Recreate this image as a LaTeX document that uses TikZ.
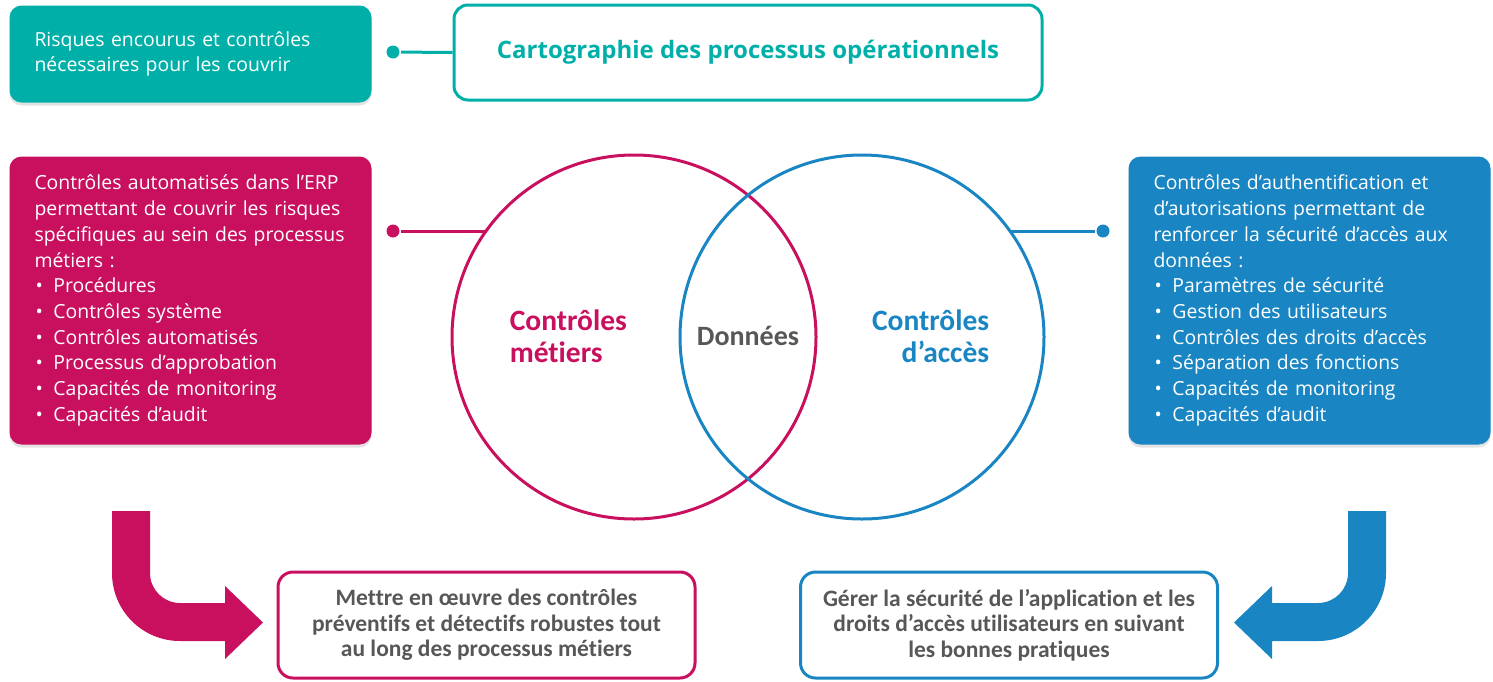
\documentclass[tikz,border=0pt]{standalone}
\usepackage{fontspec}
\setmainfont{Open Sans}[Ligatures={TeX,NoCommon}]
\newfontfamily\condfont{Carlito}[Ligatures={TeX,NoCommon}]
\usetikzlibrary{positioning,shadows}
\definecolor{cteal}{RGB}{0,176,168}
\definecolor{cmag}{RGB}{200,16,95}
\definecolor{cblue}{RGB}{25,133,195}
\definecolor{cgray}{RGB}{87,87,87}
\newcommand{\itm}[1]{\hspace*{1pt}\makebox[18pt][l]{\textbullet}#1}

\begin{document}
\begin{tikzpicture}[%
            x=1pt, y=-1pt,
            line width=3pt,
            box/.style={rounded corners=12pt, text=white, align=left, anchor=north west,
              inner xsep=25pt, inner ysep=0pt, font=\fontsize{19.4}{25.7}\selectfont,
              drop shadow={shadow xshift=0pt, shadow yshift=-3pt, opacity=0.22}},
            outbox/.style={draw, rounded corners=15pt, minimum width=417pt, minimum height=106pt,
              align=center, text=cgray, font=\condfont\bfseries\fontsize{23.5}{25.5}\selectfont},
            venn/.style={circle, draw, minimum size=364pt, inner sep=0pt, outer sep=0pt},
            dot/.style={circle, inner sep=0pt, minimum size=13pt},
            vlabel/.style={font=\condfont\bfseries\fontsize{29.5}{32}\selectfont}
            ]
            \useasboundingbox (0,0) rectangle (1493,681);

            \node[box, fill=cteal, text width=312pt, minimum height=97pt] (risk) at (8,4)
              {Risques encourus et contrôles\\nécessaires pour les couvrir};
            \node[draw=cteal, rounded corners=14pt, minimum width=588pt, minimum height=95pt,
              text=cteal, font=\bfseries\fontsize{24}{26}\selectfont] (carto) at (748,52.5)
              {Cartographie des processus opérationnels};
            \node[dot, fill=cteal] (dotT) at (393,52) {};
            \draw[cteal] (dotT) -- (carto.west);

            \node[box, fill=cmag, text width=312pt, minimum height=288pt] (metier) at (8,155)
              {Contrôles automatisés dans l’ERP\\permettant de couvrir les risques\\spécifiques au sein des processus\\métiers :\\
               \itm{Procédures}\\\itm{Contrôles système}\\\itm{Contrôles automatisés}\\
               \itm{Processus d’approbation}\\\itm{Capacités de monitoring}\\\itm{Capacités d’audit}};
            \node[box, fill=cblue, text width=312pt, minimum height=288pt] (acces) at (1127,155)
              {Contrôles d’authentification et\\d’autorisations permettant de\\renforcer la sécurité d’accès aux\\données :\\
               \itm{Paramètres de sécurité}\\\itm{Gestion des utilisateurs}\\\itm{Contrôles des droits d’accès}\\
               \itm{Séparation des fonctions}\\\itm{Capacités de monitoring}\\\itm{Capacités d’audit}};

            \node[venn, draw=cmag] (cirM) at (634,337) {};
            \node[venn, draw=cblue] (cirA) at (862,337) {};
            \node[dot, fill=cmag] (dotM) at (393,231) {};
            \node[dot, fill=cblue] (dotA) at (1103,231) {};
            \draw[cmag] (dotM) -- (cirM.144.4 |- dotM);
            \draw[cblue] (cirA.35.6 |- dotA) -- (dotA);

            \node[vlabel, text=cmag, align=left, anchor=west] (lblM) at (505,336) {Contrôles\\métiers};
            \node[vlabel, text=cgray, font=\condfont\bfseries\fontsize{28}{32}\selectfont] (lblD) at (748,336) {Données};
            \node[vlabel, text=cblue, align=right, anchor=east] (lblA) at (994,336) {Contrôles\\d’accès};

            \fill[cmag] (112,511) -- (150,511) -- (150,573) .. controls (150,589.6) and (163.4,603) .. (180,603)
              -- (225,603) -- (225,586) -- (263,622.5) -- (225,659) -- (225,641) -- (180,641)
              .. controls (142.4,641) and (112,610.6) .. (112,573) -- cycle;
            \fill[cblue] (1386,511) -- (1348,511) -- (1348,573) .. controls (1348,589.6) and (1334.6,603) .. (1318,603)
              -- (1272,603) -- (1272,586) -- (1234,622.5) -- (1272,659) -- (1272,641) -- (1318,641)
              .. controls (1355.6,641) and (1386,610.6) .. (1386,573) -- cycle;

            \node[outbox, draw=cmag] (outM) at (486.5,625)
              {Mettre en œuvre des contrôles\\préventifs et détectifs robustes tout\\au long des processus métiers};
            \node[outbox, draw=cblue] (outA) at (1009,625)
              {Gérer la sécurité de l’application et les\\droits d’accès utilisateurs en suivant\\les bonnes pratiques};
        \end{tikzpicture}
\end{document}
